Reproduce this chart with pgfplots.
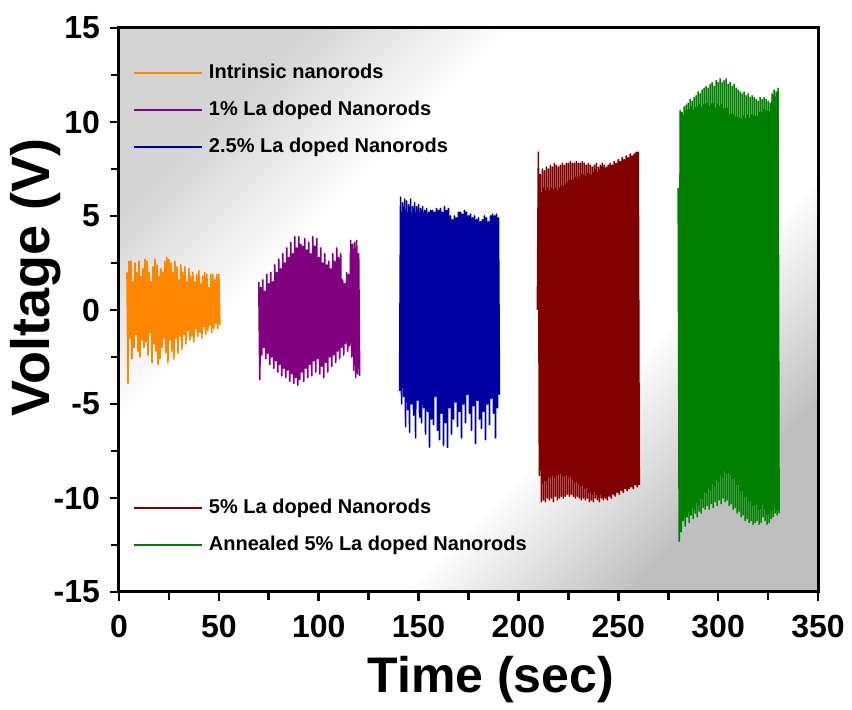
\documentclass[border=0pt]{standalone}
\usepackage{pgfplots}
\pgfplotsset{compat=1.18}
\usepackage{fontspec}
\setmainfont{Liberation Sans}

\definecolor{cOrange}{RGB}{255,135,0}
\definecolor{cPurple}{RGB}{128,0,128}
\definecolor{cBlue}{RGB}{0,0,160}
\definecolor{cRed}{RGB}{128,0,0}
\definecolor{cGreen}{RGB}{0,128,0}

% background: grey in the top-left and bottom-right corners, white band between
\pgfdeclareverticalshading{bgshade}{100bp}{color(0bp)=(gray!50); color(25bp)=(gray!50);
  color(38bp)=(white); color(63bp)=(white); color(75bp)=(gray!34); color(100bp)=(gray!34)}

\pgfplotsset{
  common/.style={
    scale only axis, width=349.5pt, height=282pt,
    xmin=0, xmax=350, ymin=-15, ymax=15,
  },
  sig/.style={line width=0.8pt, line join=round},
  leg/.style={
    legend image code/.code={\draw[##1] (0pt,0pt) -- (34pt,0pt);},
    legend style={draw=none, fill=none, inner sep=0pt, row sep=8.5pt,
      font=\fontsize{10}{12}\selectfont\bfseries,
      nodes={inner sep=0pt, text height=8pt, text depth=2pt},
      /tikz/every odd column/.append style={column sep=3pt}},
    legend cell align=left,
  },
}

\begin{document}
\begin{tikzpicture}
\path (-59.5pt,-57pt) rectangle (366.5pt,296pt);
\begin{axis}[common, leg,
  axis line style={line width=1.5pt},
  axis background/.style={shading=bgshade, shading angle=45},
  tick align=outside, xtick pos=bottom, ytick pos=left,
  major tick length=4.5pt, minor tick length=4pt,
  every tick/.style={black, line width=1.3pt},
  xtick={0,50,...,350}, minor xtick={25,75,...,325},
  ytick={-15,-10,...,15}, minor ytick={-12.5,-7.5,...,12.5},
  /pgf/number format/assume math mode=true,
  ticklabel style={font=\fontsize{16}{16}\selectfont\bfseries},
  xticklabel style={yshift=-3.5pt},
  yticklabel style={xshift=-1.5pt},
  xlabel={Time (sec)}, ylabel={Voltage (V)},
  every axis x label/.style={at={(rel axis cs:0.532,-0.179)}, anchor=base,
    font=\fontsize{25}{25}\selectfont\bfseries},
  every axis y label/.style={at={(rel axis cs:-0.099,0.558)}, anchor=base, rotate=90,
    font=\fontsize{27}{27}\selectfont\bfseries},
  legend style={at={(0.02,0.939)}, anchor=north west},
]
\addplot[sig, cOrange] coordinates {
(4,2.0)(4.5,-3.9)(5,2.6)(5.5,-1.5)(6,2.6)(6.5,-2.6)(7,1.5)(7.5,-2.0)(8,2.5)(8.5,-1.3)
(9,2.0)(9.5,-2.2)(10,2.6)(10.5,-2.5)(11,1.8)(11.5,-1.6)(12,2.2)(12.5,-2.0)(13,2.7)(13.5,-1.7)
(14,2.6)(14.5,-2.4)(15,2.0)(15.5,-1.2)(16,1.5)(16.5,-2.8)(17,2.3)(17.5,-1.8)(18,2.7)(18.5,-2.2)
(19,2.4)(19.5,-2.9)(20,1.8)(20.5,-2.6)(21,2.2)(21.5,-2.0)(22,2.0)(22.5,-1.5)(23,2.6)(23.5,-2.3)
(24,2.8)(24.5,-2.8)(25,2.7)(25.5,-1.6)(26,2.5)(26.5,-2.2)(27,2.0)(27.5,-2.6)(28,2.6)(28.5,-1.5)
(29,2.3)(29.5,-2.3)(30,1.6)(30.5,-1.4)(31,2.4)(31.5,-2.1)(32,2.0)(32.5,-1.3)(33,2.3)(33.5,-1.8)
(34,1.5)(34.5,-1.1)(35,2.2)(35.5,-1.6)(36,1.8)(36.5,-1.4)(37,2.0)(37.5,-1.7)(38,1.5)(38.5,-1.0)
(39,1.9)(39.5,-1.4)(40,2.1)(40.5,-1.2)(41,1.4)(41.5,-1.5)(42,1.8)(42.5,-0.9)(43,2.0)(43.5,-1.3)
(44,1.9)(44.5,-1.1)(45,1.2)(45.5,-0.8)(46,1.9)(46.5,-1.2)(47,1.9)(47.5,-1.0)(48,1.6)(48.5,-0.7)
(49,1.9)(49.5,-1.0)(50,1.9)(50.5,-0.8)
};
\addlegendentry{Intrinsic nanorods}
\addplot[sig, cPurple] coordinates {
(70,1.5)(70.5,-3.7)(71,1.2)(71.5,-2.4)(72,1.6)(72.5,-2.0)(73,1.0)(73.5,-2.6)(74,1.9)(74.5,-2.3)
(75,1.4)(75.5,-2.9)(76,2.0)(76.5,-2.5)(77,1.5)(77.5,-3.1)(78,2.4)(78.5,-2.7)(79,2.0)(79.5,-3.3)
(80,2.7)(80.5,-2.9)(81,2.2)(81.5,-3.5)(82,3.0)(82.5,-3.1)(83,2.5)(83.5,-3.6)(84,3.3)(84.5,-3.2)
(85,2.8)(85.5,-3.8)(86,3.6)(86.5,-3.4)(87,3.0)(87.5,-3.9)(88,3.9)(88.5,-3.6)(89,3.3)(89.5,-4.0)
(90,3.9)(90.5,-3.7)(91,3.5)(91.5,-3.3)(92,3.4)(92.5,-3.8)(93,3.8)(93.5,-3.1)(94,3.2)(94.5,-3.6)
(95,3.6)(95.5,-2.9)(96,3.0)(96.5,-3.5)(97,3.9)(97.5,-2.7)(98,3.4)(98.5,-3.3)(99,3.8)(99.5,-2.6)
(100,2.8)(100.5,-3.4)(101,3.3)(101.5,-3.0)(102,2.5)(102.5,-3.6)(103,3.0)(103.5,-2.8)(104,2.4)(104.5,-3.3)
(105,2.6)(105.5,-2.5)(106,2.2)(106.5,-3.0)(107,3.0)(107.5,-2.4)(108,2.6)(108.5,-2.8)(109,3.3)(109.5,-2.2)
(110,2.8)(110.5,-2.6)(111,3.0)(111.5,-2.0)(112,1.6)(112.5,-2.4)(113,1.4)(113.5,-1.8)(114,2.0)(114.5,-2.2)
(115,1.9)(115.5,-1.9)(116,3.7)(116.5,-2.5)(117,3.5)(117.5,-3.2)(118,3.6)(118.5,-3.6)(119,3.7)(119.5,-3.4)
(120,3.0)(120.5,-3.5)
};
\addlegendentry{1\% La doped Nanorods}
\addplot[sig, cBlue] coordinates {
(140.5,-4.3)(141,6.0)(141.5,-5.0)(142,5.7)(142.5,-4.6)(143,5.9)(143.5,-6.2)(144,5.8)(144.5,-5.3)
(145,5.6)(145.5,-6.5)(146,5.9)(146.5,-5.0)(147,5.5)(147.5,-5.6)(148,5.7)(148.5,-6.8)(149,5.5)(149.5,-4.8)
(150,5.6)(150.5,-5.7)(151,5.4)(151.5,-6.0)(152,5.5)(152.5,-5.2)(153,5.3)(153.5,-6.6)(154,5.4)(154.5,-5.4)
(155,5.2)(155.5,-7.3)(156,5.3)(156.5,-5.8)(157,5.3)(157.5,-6.1)(158,5.2)(158.5,-4.6)(159,5.4)(159.5,-6.4)
(160,5.3)(160.5,-6.9)(161,5.4)(161.5,-5.5)(162,5.2)(162.5,-7.2)(163,5.5)(163.5,-6.0)(164,5.3)(164.5,-7.3)
(165,5.4)(165.5,-5.2)(166,5.0)(166.5,-6.6)(167,4.8)(167.5,-5.8)(168,5.0)(168.5,-4.9)(169,4.9)(169.5,-6.2)
(170,5.2)(170.5,-5.4)(171,5.2)(171.5,-6.8)(172,5.1)(172.5,-5.0)(173,5.3)(173.5,-6.0)(174,5.2)(174.5,-4.5)
(175,5.0)(175.5,-5.5)(176,5.1)(176.5,-6.4)(177,4.9)(177.5,-5.1)(178,5.0)(178.5,-7.1)(179,4.8)(179.5,-4.8)
(180,4.9)(180.5,-5.8)(181,4.7)(181.5,-6.3)(182,4.8)(182.5,-5.4)(183,5.0)(183.5,-6.9)(184,4.9)(184.5,-5.0)
(185,4.7)(185.5,-6.1)(186,5.0)(186.5,-4.7)(187,5.1)(187.5,-5.5)(188,5.0)(188.5,-6.8)(189,5.1)(189.5,-5.2)
(190,4.9)(190.5,-4.5)
};
\addlegendentry{2.5\% La doped Nanorods}
\addplot[sig, cRed, forget plot] coordinates {
(209.5,0.0)(210,8.4)(210.5,-8.8)(211,7.2)(211.5,-10.2)(212,7.5)(212.5,-10.1)(213,7.4)(213.5,-10.2)(214,7.6)(214.5,-10.0)
(215,7.5)(215.5,-10.1)(216,7.7)(216.5,-10.0)(217,7.6)(217.5,-10.2)(218,7.8)(218.5,-9.9)(219,7.7)(219.5,-10.1)
(220,7.6)(220.5,-10.0)(221,7.7)(221.5,-9.9)(222,7.8)(222.5,-10.0)(223,7.7)(223.5,-9.9)(224,7.8)(224.5,-9.8)
(225,7.8)(225.5,-9.9)(226,7.9)(226.5,-9.8)(227,7.8)(227.5,-9.9)(228,7.8)(228.5,-10.0)(229,7.9)(229.5,-9.9)
(230,7.8)(230.5,-10.0)(231,7.8)(231.5,-10.1)(232,7.9)(232.5,-10.0)(233,7.8)(233.5,-10.1)(234,7.7)(234.5,-10.0)
(235,7.8)(235.5,-10.2)(236,7.7)(236.5,-10.1)(237,7.6)(237.5,-10.2)(238,7.7)(238.5,-10.0)(239,7.8)(239.5,-10.1)
(240,7.6)(240.5,-10.2)(241,7.7)(241.5,-10.0)(242,7.8)(242.5,-10.1)(243,7.7)(243.5,-10.0)(244,7.6)(244.5,-10.1)
(245,7.7)(245.5,-9.9)(246,7.8)(246.5,-10.0)(247,7.7)(247.5,-9.8)(248,7.9)(248.5,-9.9)(249,7.8)(249.5,-9.7)
(250,8.0)(250.5,-9.8)(251,7.9)(251.5,-9.6)(252,8.1)(252.5,-9.7)(253,8.0)(253.5,-9.5)(254,8.2)(254.5,-9.6)
(255,8.1)(255.5,-9.5)(256,8.3)(256.5,-9.4)(257,8.2)(257.5,-9.5)(258,8.3)(258.5,-9.3)(259,8.4)(259.5,-9.4)
(260,8.4)(260.5,-9.3)
};
\addplot[sig, cGreen, forget plot] coordinates {
(280,6.5)(280.5,-12.3)(281,10.6)(281.5,-11.8)(282,10.5)(282.5,-11.2)(283,10.8)(283.5,-11.5)(284,10.9)(284.5,-11.0)
(285,11.0)(285.5,-11.3)(286,11.2)(286.5,-10.9)(287,11.1)(287.5,-11.1)(288,11.3)(288.5,-10.8)(289,11.4)(289.5,-11.0)
(290,11.6)(290.5,-10.7)(291,11.5)(291.5,-10.8)(292,11.7)(292.5,-10.5)(293,11.8)(293.5,-10.6)(294,11.9)(294.5,-10.4)
(295,11.8)(295.5,-10.6)(296,12.0)(296.5,-10.3)(297,12.1)(297.5,-10.5)(298,11.9)(298.5,-10.2)(299,12.2)(299.5,-10.4)
(300,12.1)(300.5,-10.1)(301,12.3)(301.5,-10.3)(302,12.1)(302.5,-10.0)(303,12.2)(303.5,-10.2)(304,12.3)(304.5,-10.1)
(305,12.0)(305.5,-10.4)(306,12.1)(306.5,-10.3)(307,11.9)(307.5,-10.6)(308,12.0)(308.5,-10.5)(309,11.8)(309.5,-10.8)
(310,11.7)(310.5,-10.7)(311,11.6)(311.5,-11.0)(312,11.5)(312.5,-10.9)(313,11.6)(313.5,-11.2)(314,11.4)(314.5,-11.1)
(315,11.5)(315.5,-11.3)(316,11.3)(316.5,-11.2)(317,11.4)(317.5,-11.4)(318,11.3)(318.5,-11.3)(319,11.2)(319.5,-11.2)
(320,11.1)(320.5,-11.4)(321,11.3)(321.5,-11.3)(322,11.2)(322.5,-11.0)(323,11.3)(323.5,-11.2)(324,11.2)(324.5,-11.4)
(325,11.1)(325.5,-11.3)(326,11.0)(326.5,-11.1)(327,11.5)(327.5,-11.0)(328,11.7)(328.5,-10.8)(329,11.6)(329.5,-10.9)
(330,11.8)(330.5,-10.8)
};
\end{axis}
\begin{axis}[common, leg, hide axis,
  legend style={at={(0.02,0.065)}, anchor=south west},
]
\addlegendimage{sig, cRed}
\addlegendentry{5\% La doped Nanorods}
\addlegendimage{sig, cGreen}
\addlegendentry{Annealed 5\% La doped Nanorods}
\end{axis}
\end{tikzpicture}
\end{document}
